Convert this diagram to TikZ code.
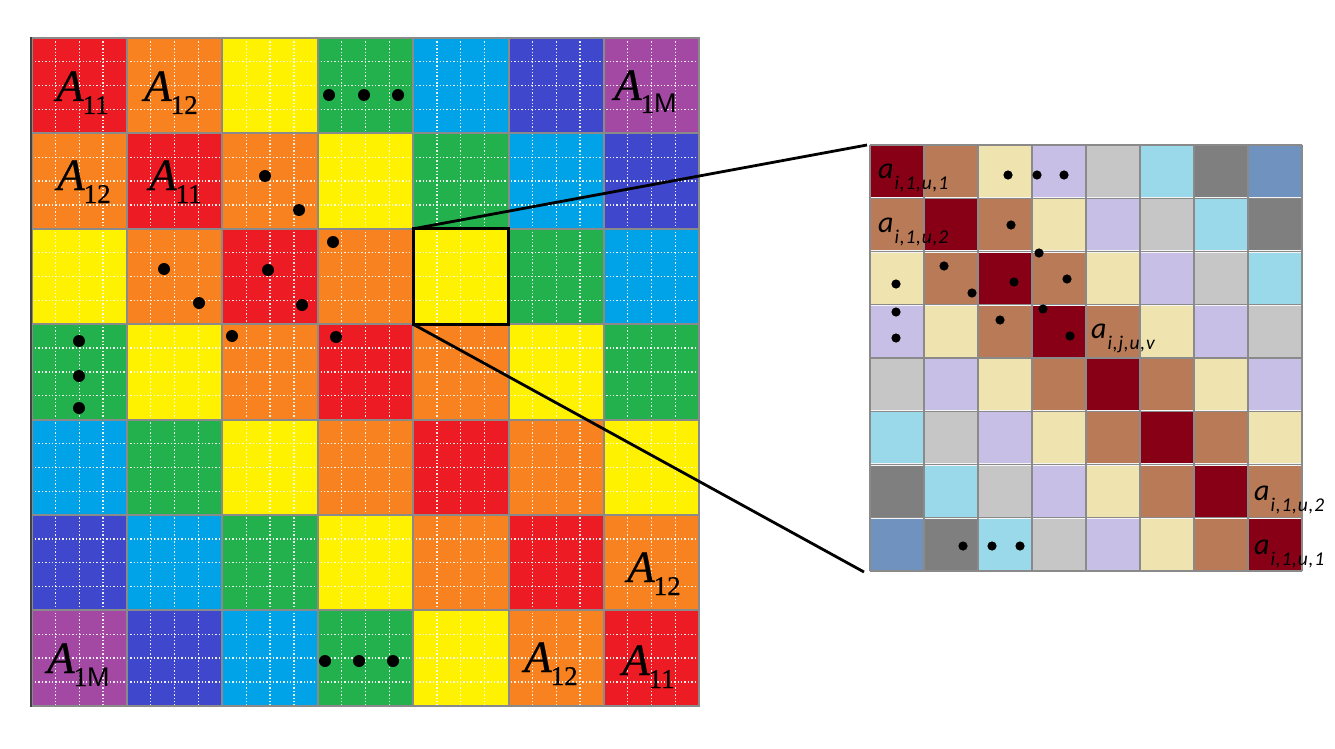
\documentclass[tikz,border=0pt]{standalone}
\usepackage{fontspec}
\setmainfont{Liberation Serif}
\newfontfamily\timesfont[FakeBold=0.6]{Liberation Serif}
\newfontfamily\arialfont{Liberation Sans}
\newfontfamily\calfont{Carlito}
\definecolor{Lred}{HTML}{ED1C24}
\definecolor{Lorange}{HTML}{F7821F}
\definecolor{Lyellow}{HTML}{FFF200}
\definecolor{Lgreen}{HTML}{22B14C}
\definecolor{Lcyan}{HTML}{00A2E8}
\definecolor{Lblue}{HTML}{3F48CC}
\definecolor{Lpurple}{HTML}{A349A4}
\definecolor{Rdred}{HTML}{880015}
\definecolor{Rbrown}{HTML}{B97A57}
\definecolor{Rcream}{HTML}{EFE4B0}
\definecolor{Rlav}{HTML}{C8BFE7}
\definecolor{Rlgray}{HTML}{C6C6C6}
\definecolor{Rlblue}{HTML}{99D9EA}
\definecolor{Rdgray}{HTML}{7F7F7F}
\definecolor{Rsteel}{HTML}{7092BE}
\definecolor{gridgray}{HTML}{8A8A8A}
\newcommand\leftcol[1]{\ifcase#1 Lred\or Lorange\or Lyellow\or Lgreen\or Lcyan\or Lblue\or Lpurple\fi}
\newcommand\rightcol[1]{\ifcase#1 Rdred\or Rbrown\or Rcream\or Rlav\or Rlgray\or Rlblue\or Rdgray\or Rsteel\fi}
\newcommand\Alab[1]{\timesfont\fontsize{45}{45}\selectfont\itshape A\upshape\kern-1pt\raisebox{-13pt}{\fontsize{27}{27}\selectfont #1}}
\newcommand\alab[1]{\calfont\fontsize{30}{30}\selectfont\itshape a\kern1pt\raisebox{-11pt}{\fontsize{19.5}{19.5}\selectfont\addfontfeature{LetterSpace=4}#1}}
\begin{document}
\begin{tikzpicture}[x=1pt,y=-1pt,
  blk/.style={inner sep=0pt,outer sep=0pt,minimum width=95.4pt,minimum height=95.4pt},
  cell/.style={inner sep=0pt,outer sep=0pt,minimum width=51.6pt,minimum height=50.85pt},
  bigdot/.style={fill=black},
  lab/.style={anchor=base west,inner sep=0pt},
  subgrid/.style={white,opacity=0.9,line width=1.3pt,dash pattern=on 1.4pt off 2pt},
  zoomline/.style={line width=2.8pt,black}]
\useasboundingbox (0,0) rectangle (1335,749);
\fill[white] (0,0) rectangle (1335,749);
% ---------- left matrix ----------
\foreach \i in {0,...,6}{
  \foreach \j in {0,...,6}{
    \pgfmathtruncatemacro\d{abs(\i-\j)}
    \edef\cname{\leftcol{\d}}
    \node[blk,fill=\cname] (L-\i-\j) at ({31.5+95.4*(\j+0.5)},{38+95.4*(\i+0.5)}) {};
  }
}
% inner dotted sub-grid
\foreach \k in {1,...,27}{
  \draw[subgrid] ({31.5+95.4*\k/4},38) -- ({31.5+95.4*\k/4},705.8);
  \draw[subgrid] (31.5,{38+95.4*\k/4}) -- (699.3,{38+95.4*\k/4});
}
% block borders
\foreach \k in {0,...,7}{
  \draw[gridgray,line width=2pt] ({31.5+95.4*\k},37) -- ({31.5+95.4*\k},706.8);
  \draw[gridgray,line width=2pt] (30.5,{38+95.4*\k}) -- (700.3,{38+95.4*\k});
}
\draw[black!75,line width=2pt] (31,37) -- (31,707);
% labels
\node[lab] (t11) at (56,101) {\Alab{11}};
\node[lab] (t12) at (144,101) {\Alab{12}};
\node[lab] (t1M) at (614,100) {\Alab{1{\arialfont M}}};
\node[lab] (t21) at (57,190) {\Alab{12}};
\node[lab] (t22) at (149,190) {\Alab{11}};
\node[lab] (t67) at (627,582) {\Alab{12}};
\node[lab] (t71) at (47,673) {\Alab{1{\arialfont M}}};
\node[lab] (t76) at (524,672) {\Alab{12}};
\node[lab] (t77) at (622,675) {\Alab{11}};
% dots
\foreach \p in {(329,95),(364,95),(398,95),
  (265,176),(299,210),(333,242),(164,269),(199,303),(268,270),(302,305),
  (232,336),(336,337),(79,341),(79,376),(79,408),
  (325,661),(359,661),(393,661)}
  \fill[bigdot] \p circle (6pt);
% highlight box
\node[blk,draw=black,line width=3pt] (hl) at (L-2-4) {};
% ---------- right matrix ----------
\fill[white!92!gray] (869,144) rectangle (1303,572);
\foreach \i in {0,...,7}{
  \foreach \j in {0,...,7}{
    \pgfmathtruncatemacro\d{abs(\i-\j)}
    \edef\cname{\rightcol{\d}}
    \node[cell,fill=\cname] (R-\i-\j) at ({870+54*(\j+0.5)},{145+53.25*(\i+0.5)}) {};
  }
}
\foreach \k in {0,...,8}{
  \draw[gridgray,line width=1.4pt] ({870+54*\k},145) -- ({870+54*\k},571);
  \draw[gridgray,line width=1.4pt] (870,{145+53.25*\k}) -- (1302,{145+53.25*\k});
}
\node[lab] (r00) at (878,178) {\alab{i,1,u,1}};
\node[lab] (r10) at (878,232) {\alab{i,1,u,2}};
\node[lab] (r34) at (1091,338) {\alab{i,j,u,v}};
\node[lab] (r67) at (1254,500) {\alab{i,1,u,2}};
\node[lab] (r77) at (1254,554) {\alab{i,1,u,1}};
\foreach \p in {(1008,175),(1037,175),(1064,175),(1011,225),
  (944,266),(972,293),(896,284),(1014,282),(1039,253),(1067,279),
  (896,312),(896,338),(1000,320),(1043,309),(1070,336),
  (963,546),(992,546),(1020,546)}
  \fill[bigdot] \p circle (4.6pt);
% zoom connectors
\coordinate (zt) at (867,145);
\coordinate (zb) at (864,572);
\draw[zoomline] (hl.north west) -- (zt);
\draw[zoomline] (hl.south west) -- (zb);
\end{tikzpicture}
\end{document}
